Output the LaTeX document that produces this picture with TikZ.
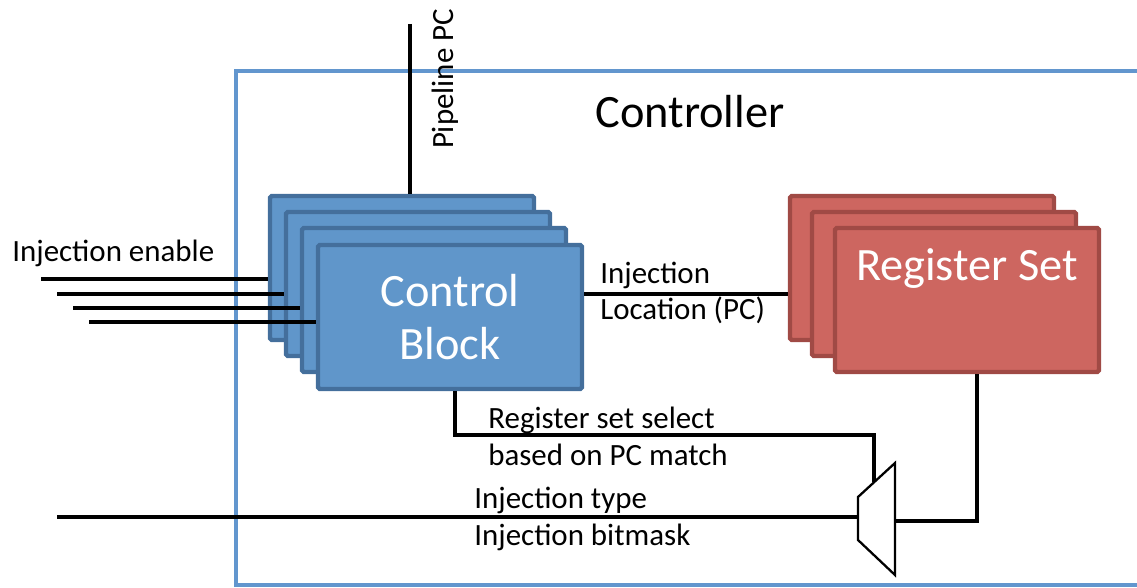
\documentclass[tikz,border=0pt]{standalone}
\usepackage{fontspec}
\setmainfont{Carlito}
\usepackage{tikz}
\usetikzlibrary{positioning, calc}
\definecolor{cbfill}{RGB}{96,150,202}
\definecolor{cbline}{RGB}{68,111,156}
\definecolor{rsfill}{RGB}{205,102,96}
\definecolor{rsline}{RGB}{160,74,69}
\definecolor{frameline}{RGB}{98,150,206}

\begin{document}
\begin{tikzpicture}[x=0.02cm, y=-0.02cm,
    blk/.style={draw, rectangle, line width=2.5pt, rounded corners=1pt, minimum width=5.28cm, minimum height=2.88cm, inner sep=0pt},
    cblk/.style={blk, draw=cbline, fill=cbfill},
    rblk/.style={blk, draw=rsline, fill=rsfill},
    wire/.style={line width=2.3pt, black},
    lbl/.style={font=\fontsize{17.6}{21}\selectfont, align=left, inner sep=0pt},
    big/.style={font=\fontsize{26.4}{30}\selectfont, align=center, inner sep=0pt}]
    \useasboundingbox (0,0) rectangle (1137,588);
    \clip (0,0) rectangle (1137,588);

    % Frame
    \draw[frameline, line width=2.3pt] (236,71) rectangle (1170,585);
    \node[big] (ctrl) at (690,112) {Controller};

    % Nodes
    \node[cblk] (cb1) at (402,268) {};
    \node[cblk] (cb2) at ($(cb1)+(16,16)$) {};
    \node[cblk] (cb3) at ($(cb1)+(32,32)$) {};
    \node[cblk, big, text=white] (cb4) at ($(cb1)+(48,49)$) {Control\\Block};

    \node[rblk] (rs1) at (922,268) {};
    \node[rblk] (rs2) at ($(rs1)+(22,16)$) {};
    \node[rblk] (rs3) at ($(rs1)+(45,32)$) {};
    \node[big, text=white] (rslbl) at ($(rs3.north)+(0,43)$) {Register Set};

    \coordinate (m1) at (858,497);
    \coordinate (m2) at (895,463);
    \coordinate (m3) at (895,575);
    \coordinate (m4) at (858,540);
    \coordinate (sel) at ($(m1)!0.43!(m2)$);

    % Edges
    \coordinate (en1) at (41,279);
    \coordinate (en2) at (57,294);
    \coordinate (en3) at (73,308);
    \coordinate (en4) at (89,322);
    \draw[wire] (en1) -- (en1 -| cb1.west);
    \draw[wire] (en2) -- (en2 -| cb2.west);
    \draw[wire] (en3) -- (en3 -| cb3.west);
    \draw[wire] (en4) -- (en4 -| cb4.west);

    \coordinate (pc) at (410,24);
    \draw[wire] (pc) -- (pc |- cb1.north);

    \coordinate (loc) at ($(rs1.west)+(0,26)$);
    \draw[wire] (loc -| cb4.east) -- (loc);

    \draw[wire] ($(cb4.south)+(5,0)$) -- ++(0,44) -| (sel);

    \coordinate (itype) at (57,517);
    \draw[wire] (itype) -- (itype -| m1);
    \draw[wire] ($(rs3.south)+(10,0)$) |- ($(m2)!0.52!(m3)$);

    \draw[line width=1.3pt, fill=white] (m1) -- (m2) -- (m3) -- (m4) -- cycle;

    % Labels
    \node[lbl, anchor=west] (enlbl) at (12,253) {Injection enable};
    \node[lbl, rotate=90] (pclbl) at (445,79) {Pipeline PC};
    \node[lbl, anchor=west] (loclbl) at (600,293) {Injection\\Location (PC)};
    \node[lbl, anchor=west] (sellbl) at (488,436) {Register set select\\based on PC match};
    \node[lbl, anchor=west] (typlbl) at (474,519) {Injection type\\Injection bitmask};
\end{tikzpicture}
\end{document}
